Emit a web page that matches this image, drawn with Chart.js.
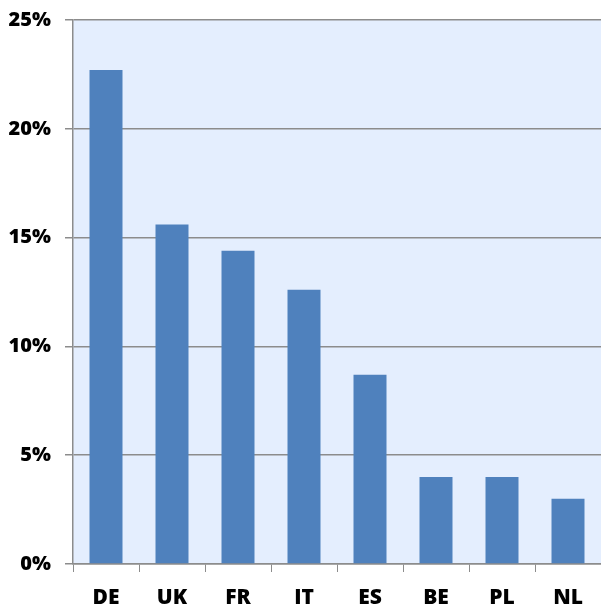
<!DOCTYPE html>
<html>
<head>
<meta charset="utf-8">
<script src="https://cdn.jsdelivr.net/npm/chart.js@4"></script>
<style>
  html, body { margin: 0; padding: 0; background: #fff; }
  #wrap { width: 601px; height: 608px; }
</style>
</head>
<body>
<div id="wrap"><canvas id="myChart" width="601" height="608"></canvas></div>
<script>
// Chart data
let countries = ['DE', 'UK', 'FR', 'IT', 'ES', 'BE', 'PL', 'NL'];
let shares = [22.7, 15.6, 14.4, 12.6, 8.7, 4.0, 4.0, 3.0];
let yTicks = [0, 5, 10, 15, 20, 25];

// Paint the plot area light blue
let plotBackground = {
    id: 'plotBackground',
    beforeDraw(chart) {
        let a = chart.chartArea;
        let ctx = chart.ctx;
        ctx.save();
        ctx.fillStyle = '#e4eefe';
        ctx.fillRect(a.left, a.top, a.right - a.left, a.bottom - a.top);
        ctx.restore();
    }
};

let ctx = document.getElementById('myChart').getContext('2d');

let chart = new Chart(ctx, {
    type: 'bar',
    data: {
        labels: countries,
        datasets: [{
            data: shares,
            backgroundColor: '#4f81bd',
            borderWidth: 0,
            barPercentage: 0.5,
            categoryPercentage: 1.0
        }]
    },
    options: {
        responsive: false,
        animation: false,
        layout: { padding: { top: 20, right: 0, left: 0, bottom: 0 } },
        plugins: {
            legend: { display: false },
            tooltip: { enabled: false }
        },
        scales: {
            x: {
                grid: {
                    offset: true,
                    drawOnChartArea: false,
                    drawTicks: true,
                    tickLength: 8,
                    color: '#8c8c8c'
                },
                border: { color: '#8c8c8c', width: 1.5 },
                ticks: {
                    color: '#000',
                    font: { family: 'Open Sans', size: 21, weight: 800 },
                    padding: 13,
                    maxRotation: 0
                },
                afterFit(scale) {
                    scale.height = 44;
                    scale.paddingLeft = 0;
                    scale.paddingRight = 0;
                }
            },
            y: {
                min: 0,
                max: 25,
                afterBuildTicks(scale) {
                    scale.ticks = yTicks.map(v => ({ value: v }));
                },
                grid: {
                    color: '#8c8c8c',
                    lineWidth: 1.5,
                    tickLength: 8
                },
                border: { color: '#8c8c8c', width: 1.5 },
                ticks: {
                    color: '#000',
                    font: { family: 'Open Sans', size: 20, weight: 800 },
                    padding: 14,
                    callback: v => v + '%'
                },
                afterFit(scale) {
                    scale.width = 73;
                    scale.paddingTop = 0;
                    scale.paddingBottom = 0;
                }
            }
        }
    },
    plugins: [plotBackground]
});
</script>
</body>
</html>
